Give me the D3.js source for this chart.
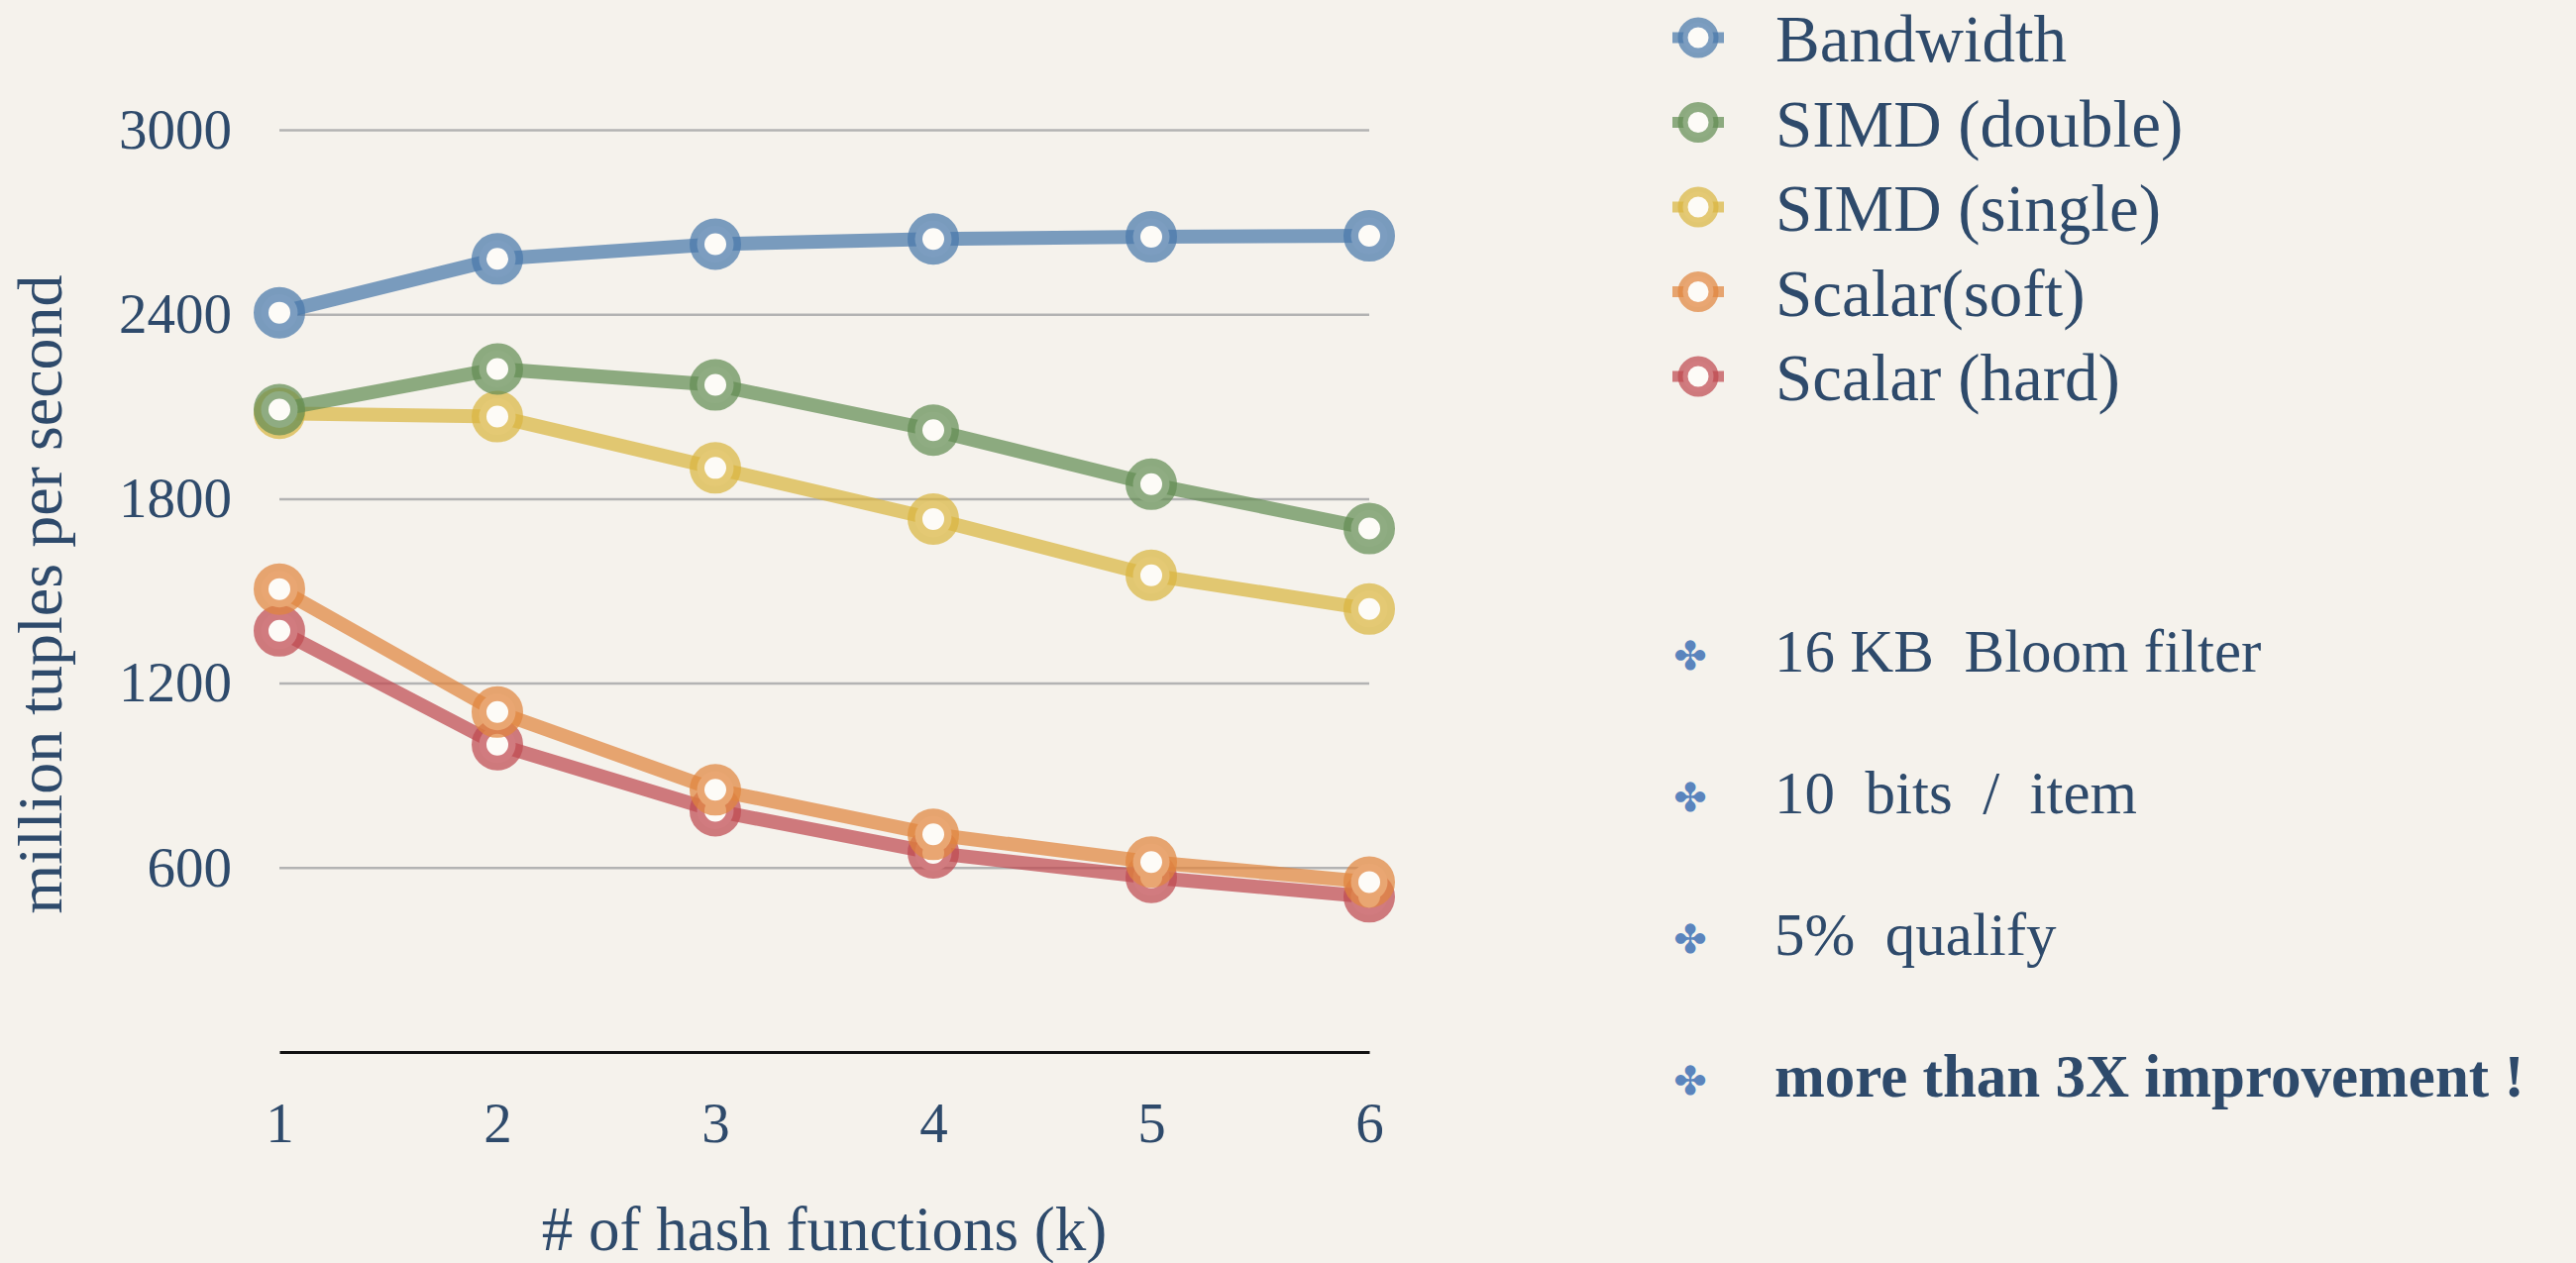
<!DOCTYPE html>
<html>
<head>
<meta charset="utf-8">
<script src="https://cdn.jsdelivr.net/npm/d3@7"></script>
<style>
  body { margin: 0; background: #f5f2ec; }
  svg { display: block; }
  text { font-family: "Liberation Serif", serif; fill: #2e4a6b; }
</style>
</head>
<body>
<div id="chart"></div>
<script>
// data
var ks = [1, 2, 3, 4, 5, 6];
var bandwidth   = [2405, 2580, 2628, 2645, 2652, 2655];
var simdDouble  = [2090, 2222, 2170, 2023, 1847, 1703];
var simdSingle  = [2078, 2067, 1900, 1734, 1551, 1441];
var scalarSoft  = [1506, 1106, 853, 708, 618, 553];
var scalarHard  = [1370, 1000, 785, 648, 568, 505];
var seriesNames = ["Bandwidth", "SIMD (double)", "SIMD (single)", "Scalar(soft)", "Scalar (hard)"];
var yTicks = [600, 1200, 1800, 2400, 3000];
var notes = ["16 KB  Bloom filter", "10  bits  /  item", "5%  qualify", "more than 3X improvement !"];

var colors = ["#4a78aa", "#648d54", "#d9b541", "#e0853f", "#bf4a51"];
var series = [bandwidth, simdDouble, simdSingle, scalarSoft, scalarHard].map(function(v, i) {
    return { name: seriesNames[i], color: colors[i], values: v };
});

var W = 2600, H = 1275;
var svg = d3.select("#chart").append("svg")
    .attr("width", W).attr("height", H);

svg.append("rect").attr("width", W).attr("height", H).attr("fill", "#f5f2ec");

var x = d3.scaleLinear().domain([1, 6]).range([282, 1382]);
var y = d3.scaleLinear().domain([0, 3000]).range([1062, 131]);

// gridlines + y labels
var yAxis = svg.append("g")
    .attr("transform", "translate(282,0)")
    .call(d3.axisLeft(y).tickValues(yTicks).tickSize(-1100).tickPadding(48).tickFormat(d3.format("d")));
yAxis.select(".domain").remove();
yAxis.selectAll("line").attr("stroke", "#b3b3b3").attr("stroke-width", 2.5);
yAxis.selectAll("text")
    .style("fill", "#2e4a6b")
    .style("font-family", "'Liberation Serif', serif")
    .style("font-size", "57px");

// x axis
var xAxis = svg.append("g")
    .attr("transform", "translate(0,1062)")
    .call(d3.axisBottom(x).tickValues(ks).tickSize(0).tickPadding(51).tickFormat(d3.format("d")));
xAxis.select(".domain").attr("stroke", "#111").attr("stroke-width", 3);
xAxis.selectAll("text")
    .style("fill", "#2e4a6b")
    .style("font-family", "'Liberation Serif', serif")
    .style("font-size", "57px");

// axis titles
svg.append("text")
    .attr("x", 832).attr("y", 1262)
    .attr("text-anchor", "middle")
    .style("font-size", "63px")
    .text("# of hash functions (k)");

svg.append("text")
    .attr("transform", "translate(62,600) rotate(-90)")
    .attr("text-anchor", "middle")
    .style("font-size", "64px")
    .text("million tuples per second");

// lines, drawn bottom series first
var line = d3.line()
    .x(function(d, i) { return x(ks[i]); })
    .y(function(d) { return y(d); });

series.slice().reverse().forEach(function(s) {
    var g = svg.append("g");
    g.append("path")
        .attr("d", line(s.values))
        .attr("fill", "none")
        .attr("stroke", s.color)
        .attr("stroke-opacity", 0.72)
        .attr("stroke-width", 14)
        .attr("stroke-linejoin", "round");
    g.selectAll("circle")
        .data(s.values)
        .enter().append("circle")
        .attr("cx", function(d, i) { return x(ks[i]); })
        .attr("cy", function(d) { return y(d); })
        .attr("r", 18.5)
        .attr("fill", "#fdfbf7")
        .attr("stroke", s.color)
        .attr("stroke-opacity", 0.72)
        .attr("stroke-width", 15);
});

// legend
var legend = svg.append("g");
series.forEach(function(s, i) {
    var ly = 38 + i * 85.5;
    legend.append("line")
        .attr("x1", 1688).attr("x2", 1740)
        .attr("y1", ly).attr("y2", ly)
        .attr("stroke", s.color).attr("stroke-opacity", 0.72)
        .attr("stroke-width", 11);
    legend.append("circle")
        .attr("cx", 1714).attr("cy", ly).attr("r", 15.5)
        .attr("fill", "#fdfbf7")
        .attr("stroke", s.color).attr("stroke-opacity", 0.72)
        .attr("stroke-width", 10);
    legend.append("text")
        .attr("x", 1792).attr("y", ly + 24)
        .style("font-size", "67px")
        .text(s.name);
});

// bullet notes
notes.forEach(function(t, i) {
    var by = 678 + i * 143;
    svg.append("text")
        .attr("x", 1706).attr("y", by - 2)
        .attr("text-anchor", "middle")
        .style("font-family", "'DejaVu Sans', sans-serif")
        .style("font-size", "40px")
        .style("fill", "#5a84bd")
        .text("\u2724");
    svg.append("text")
        .attr("x", 1791).attr("y", by)
        .style("font-size", "61px")
        .style("white-space", "pre")
        .style("font-weight", i === 3 ? "bold" : "normal")
        .text(t);
});
</script>
</body>
</html>
